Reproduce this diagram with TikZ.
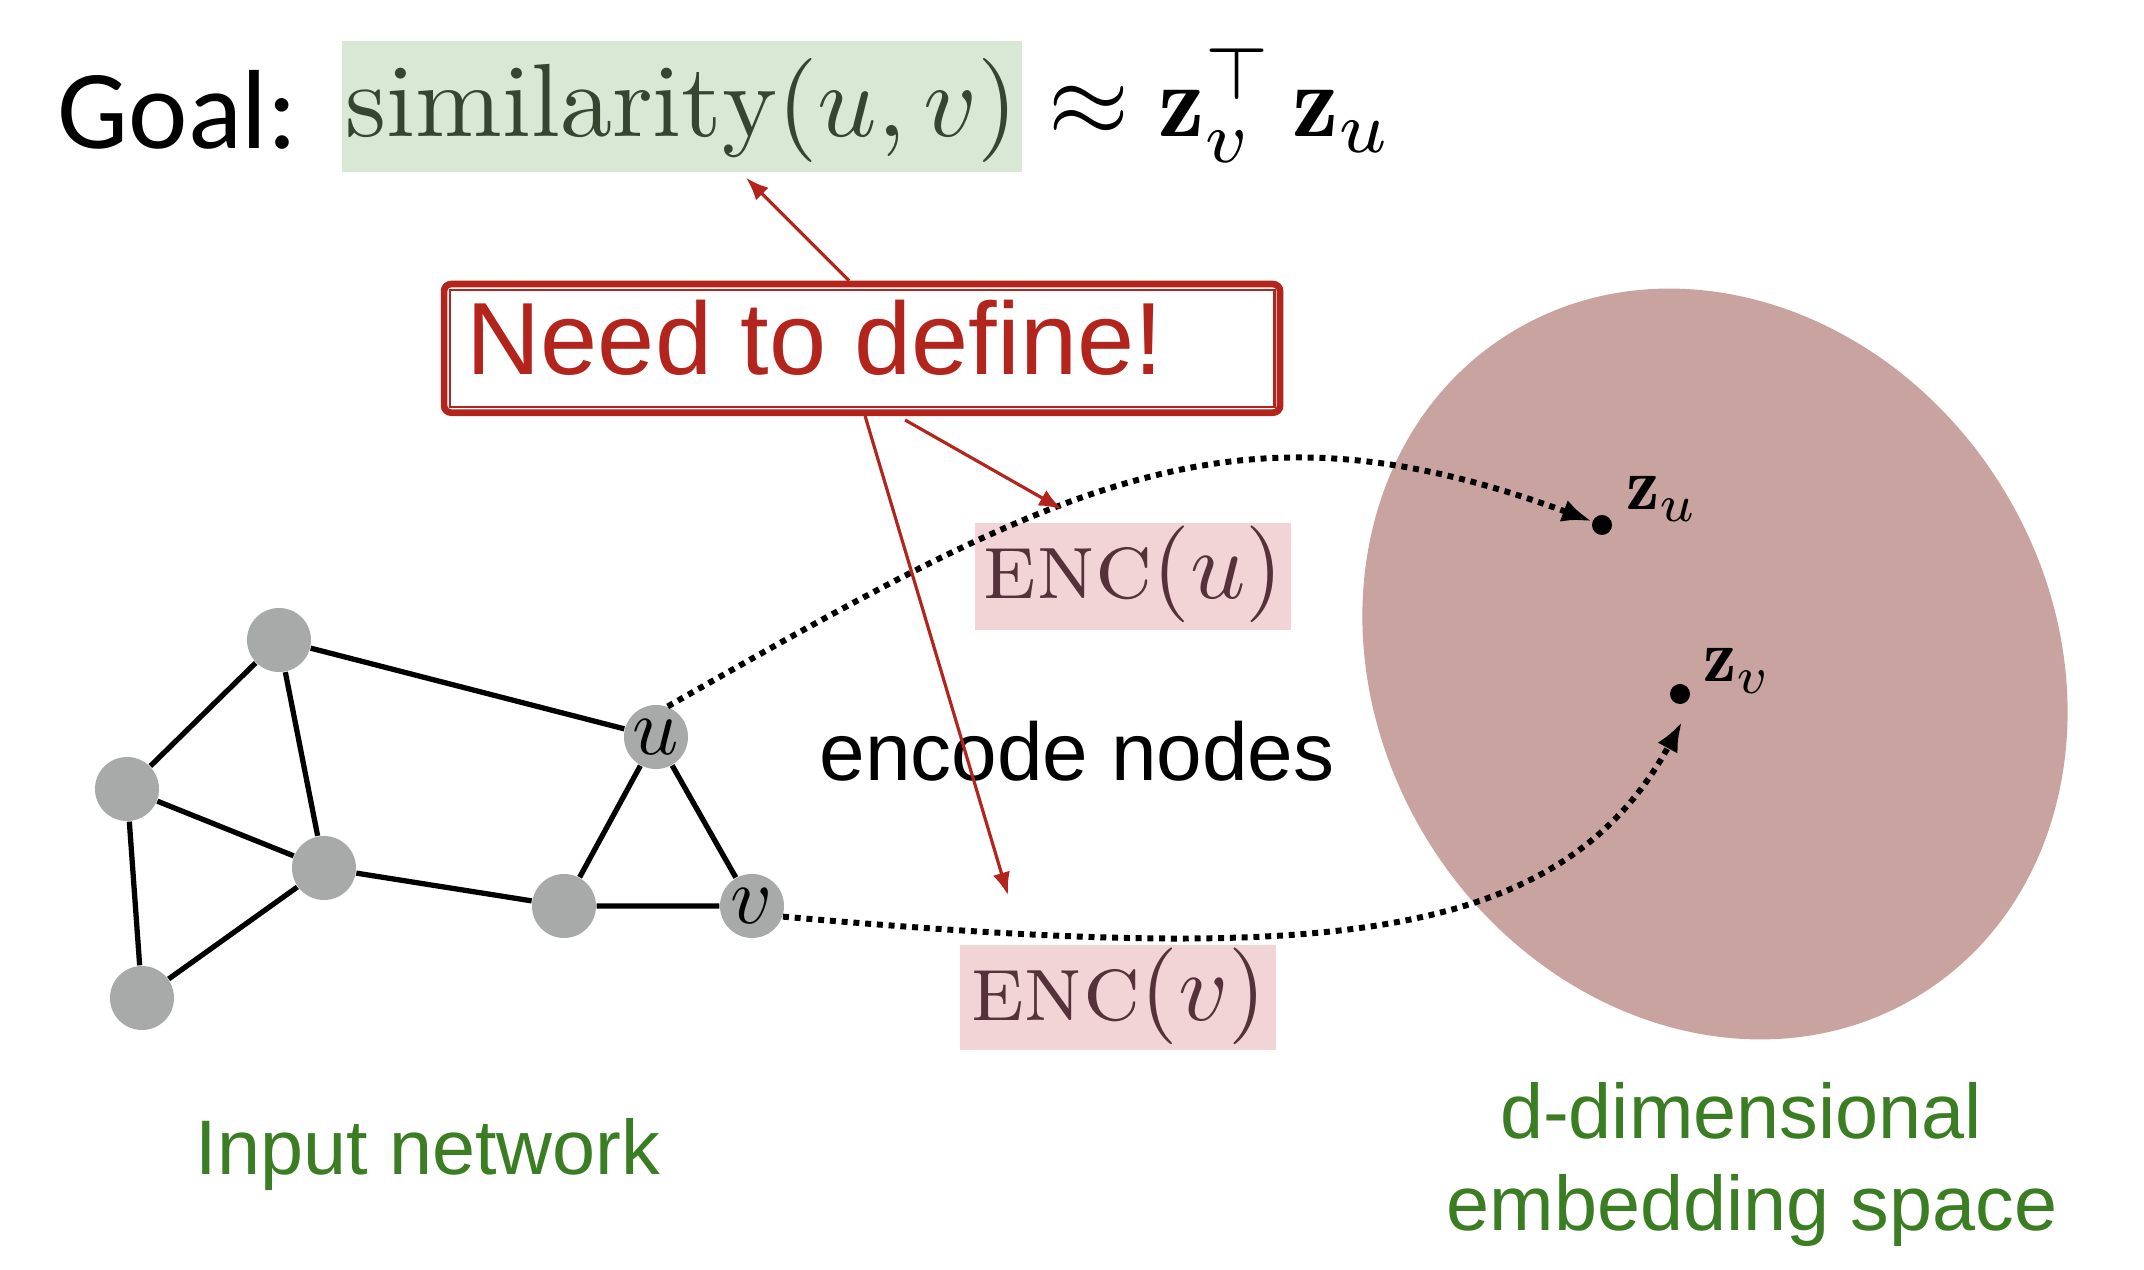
\RequirePackage{fix-cm}
\documentclass[tikz,border=0pt]{standalone}
\usepackage{graphicx}
\usepackage{fontspec}
\newfontfamily\goalfont{Carlito}
\newfontfamily\helv{Liberation Sans}
\usetikzlibrary{arrows.meta,calc}
\newcommand{\scaledten}[2]{\scalebox{#1}{\fontsize{10}{12}\selectfont #2}}
\definecolor{needred}{HTML}{B2241C}
\definecolor{simgreen}{HTML}{D8E8D4}
\definecolor{simtext}{HTML}{36452F}
\definecolor{encpink}{HTML}{F2D4D6}
\definecolor{enctext}{HTML}{55323A}
\definecolor{blobcol}{HTML}{C9A39F}
\definecolor{labelgreen}{HTML}{3A7D22}
\definecolor{nodegray}{HTML}{A8AAA9}
\tikzset{
  gnode/.style={circle, fill=nodegray, minimum size=0.64cm, inner sep=0pt},
  gedge/.style={line width=1.5pt, black},
  dotarrow/.style={line width=1.7pt, dash pattern=on 1.7pt off 1.65pt, -{Latex[length=8.5pt,width=6.5pt]}},
  redarrow/.style={draw=needred, line width=0.9pt, -{Latex[length=6.5pt,width=5pt]}},
  simbox/.style={fill=simgreen, text=simtext, inner sep=0pt, minimum width=6.8cm, text height=0.96cm, text depth=0.35cm},
  encbox/.style={fill=encpink, text=enctext, inner sep=0pt, minimum width=3.16cm, text height=0.76cm},
  needbox/.style={draw=needred, line width=1.9pt, rounded corners=2pt, minimum width=8.355cm, minimum height=1.285cm, inner sep=0pt},
  needtext/.style={text=needred, inner sep=0pt, font=\helv\fontsize{29.2}{34}\selectfont},
  greenlabel/.style={text=labelgreen, inner sep=0pt, font=\helv\fontsize{22}{26}\selectfont},
  zdot/.style={circle, fill=black, minimum size=0.2cm, inner sep=0pt},
  zlabel/.style={inner sep=0pt}
}
\begin{document}
\begin{tikzpicture}[x=0.01cm,y=-0.01cm]
\useasboundingbox (0,0) rectangle (2144,1270);
\fill[white] (0,0) rectangle (2144,1270);

% embedding space
\fill[blobcol, rotate around={-58:(1715,664)}] (1715,664) ellipse [x radius=3.89cm, y radius=3.37cm];

% title
\node[anchor=base west, inner sep=0pt, font=\goalfont\fontsize{32}{37}\selectfont] (goal) at (57,149) {Goal:};
\node[simbox, anchor=base] (sim) at (682,137) {\scaledten{2.96}{$\mathrm{similarity}(u,v)$}};
\node[anchor=base west, inner sep=0pt] (approx) at (1048,137) {\scaledten{2.96}{$\approx\mathbf{z}_v^\top\,\mathbf{z}_u$}};

% need to define box
\node[needbox, anchor=north west] (need) at (440.75,280.75) {};
\draw[needred, line width=0.65pt] ($(need.north west)+(9,9)$) rectangle ($(need.south east)+(-9,-9)$);
\node[needtext, anchor=base west] (needlabel) at (466,375) {Need to define!};

% graph
\node[gnode] (a) at (279,640) {};
\node[gnode] (b) at (127,789) {};
\node[gnode] (c) at (324,868) {};
\node[gnode] (d) at (142,998) {};
\node[gnode] (e) at (564,906) {};
\node[gnode] (u) at (656,737) {\scaledten{2.3}{$u$}};
\node[gnode] (v) at (752,906) {\scaledten{2.3}{$v$}};
\draw[gedge] (a)--(b) (a)--(c) (a)--(u) (b)--(c) (b)--(d) (c)--(d) (c)--(e) (e)--(u) (e)--(v) (u)--(v);

% encoder boxes
\node[encbox, text depth=0.31cm, anchor=base] (encu) at (1133,599) {\scaledten{2.75}{$\textsc{enc}(u)$}};
\node[encbox, text depth=0.29cm, anchor=base] (encv) at (1118,1021) {\scaledten{2.75}{$\textsc{enc}(v)$}};
\node[anchor=base west, inner sep=0pt, font=\helv\fontsize{23.3}{28}\selectfont] (encode) at (819,781) {encode nodes};

% embedding points
\node[zdot] (zu) at (1602,525) {};
\node[zdot] (zv) at (1680,694) {};
\node[zlabel, anchor=base west] (zulabel) at (1626,510) {\scaledten{2.12}{$\mathbf{z}_u$}};
\node[zlabel, anchor=base west] (zvlabel) at (1703,682) {\scaledten{2.12}{$\mathbf{z}_v$}};
\coordinate (zvtip) at ($(zv.south)+(2,17)$);

% dotted mappings
\draw[dotarrow] (u.69) .. controls (1068,478) and (1238,391) .. (zu);
\draw[dotarrow] (v.-19) .. controls (1304,962) and (1557,951) .. (zvtip);

% red arrows
\draw[redarrow] ($(need.north)+(-13,0)$) -- ($(sim.south)+(64,5)$);
\draw[redarrow] ($(need.south)+(43,4)$) -- ($(encu.north)+(-71,-13)$);
\draw[redarrow] ($(need.south)+(3,0)$) -- ($(encv.north)+(-110,-49)$);

% bottom labels
\node[greenlabel, anchor=base west] (inlabel) at (195,1175) {Input network};
\node[greenlabel, anchor=base] (emb1) at (1741,1139) {d-dimensional};
\node[greenlabel, anchor=base] (emb2) at (1752,1231) {embedding space};
\end{tikzpicture}
\end{document}
